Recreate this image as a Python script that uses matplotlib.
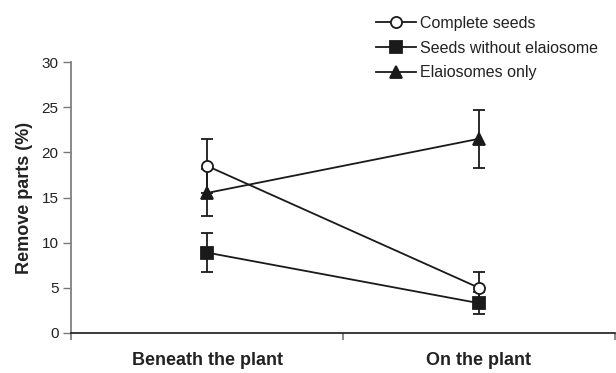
import matplotlib
matplotlib.use("Agg")
import matplotlib.pyplot as plt
from matplotlib.lines import Line2D

plt.rcParams['font.family'] = ['Liberation Sans', 'DejaVu Sans']

categories = ["Beneath the plant", "On the plant"]
series_names = ["Complete seeds", "Seeds without elaiosome", "Elaiosomes only"]
complete = [18.5, 5.0]
complete_err = [3.0, 1.8]
without = [8.9, 3.3]
without_err = [2.2, 1.2]
elaio = [15.5, 21.5]
elaio_err = [2.6, 3.2]

fig = plt.figure(figsize=(6.16, 3.73), dpi=100)
ax = fig.add_axes([71/616, 40/373, 544/616, 271/373])

x = [0.5, 1.5]
styles = [
    (complete, complete_err, dict(marker='o', mfc='white', mec='#1a1a1a', ms=8)),
    (without, without_err, dict(marker='s', mfc='#1a1a1a', mec='#1a1a1a', ms=8)),
    (elaio, elaio_err, dict(marker='^', mfc='#1a1a1a', mec='#1a1a1a', ms=8)),
]
handles = []
for (vals, errs, st), name in zip(styles, series_names):
    ax.errorbar(x, vals, yerr=errs, color='#1a1a1a', lw=1.3, capsize=4.5,
                capthick=1.3, elinewidth=1.3, mew=1.3, zorder=3, **st)
    handles.append(Line2D([], [], color='#1a1a1a', lw=1.3, mew=1.3, **st))

ax.set_xlim(0, 2)
ax.set_ylim(0, 30)
ax.set_yticks([0, 5, 10, 15, 20, 25, 30])
ax.set_xticks([0, 1, 2])
ax.set_xticklabels([])
ax.set_xticks(x, minor=True)
ax.set_xticklabels(categories, minor=True, fontsize=13, fontweight='bold', color='#222222')
ax.tick_params(axis='x', which='minor', length=0, pad=14)
ax.tick_params(axis='x', which='major', length=5, width=1.2, color='#777777', direction='out')
ax.tick_params(axis='y', length=6, width=1, color='#777777', labelsize=11, labelcolor='#222222', pad=3)
ax.spines['top'].set_visible(False)
ax.spines['right'].set_visible(False)
ax.spines['left'].set_color('#808080')
ax.spines['left'].set_linewidth(1.3)
ax.spines['bottom'].set_color('#1a1a1a')
ax.spines['bottom'].set_linewidth(1.2)
ax.set_ylabel("Remove parts (%)", fontsize=13, fontweight='bold', labelpad=6, color='#222222')

fig.legend(handles, series_names, loc='upper left', bbox_to_anchor=(376/616, 1 - 16/373),
           frameon=False, fontsize=11.5, handlelength=2.5, handletextpad=0.25,
           labelspacing=0.6, borderpad=0, borderaxespad=0, labelcolor='#222222')

fig.savefig("out.png", dpi=100)
